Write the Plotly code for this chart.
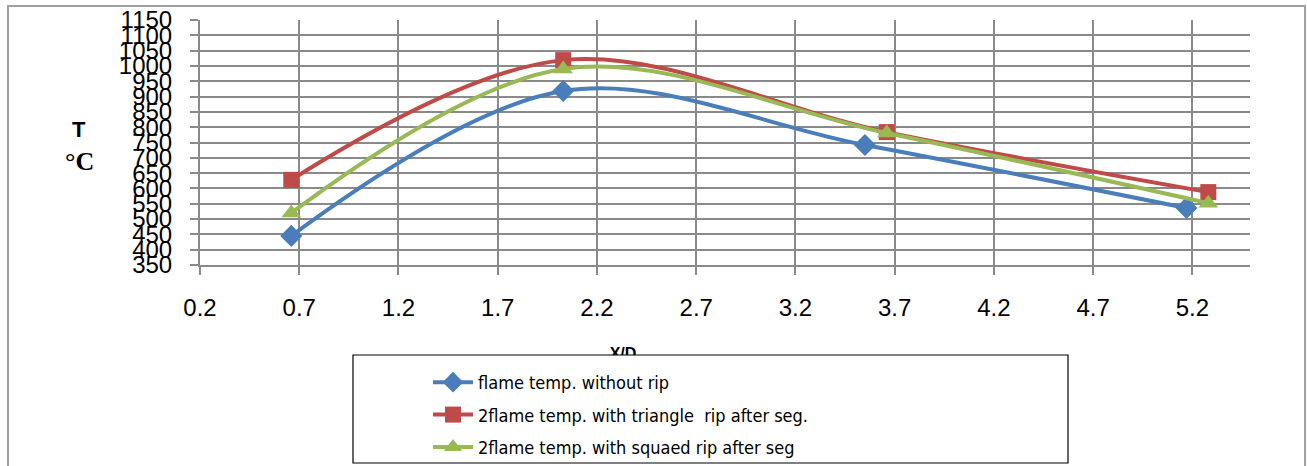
import plotly.graph_objects as go

W, H = 1307, 466

# ---- data ----
x_blue = [0.66, 2.03, 3.55, 5.17]
y_blue = [445, 918, 742, 536]
x_red = [0.66, 2.03, 3.66, 5.28]
y_red = [628, 1019, 784, 588]
x_green = [0.66, 2.03, 3.66, 5.28]
y_green = [520, 990, 781, 552]

names = ["flame temp. without rip",
         "2flame temp. with triangle  rip after seg.",
         "2flame temp. with squaed rip after seg"]
colors = ["#4a7ebb", "#be4b48", "#98b954"]
symbols = ["diamond", "square", "triangle-up"]

x_ticks = [0.2, 0.7, 1.2, 1.7, 2.2, 2.7, 3.2, 3.7, 4.2, 4.7, 5.2]
y_ticks = list(range(350, 1151, 50))

def px(x):
    return x / W

def py(y):
    return (H - y) / H

grid = "#8a8a8a"
narrow = "Liberation Sans Narrow, Arial Narrow, DejaVu Sans Condensed, sans-serif"

fig = go.Figure()
series = [(x_blue, y_blue), (x_red, y_red), (x_green, y_green)]
for i, (xs, ys) in enumerate(series):
    fig.add_trace(go.Scatter(
        x=xs, y=ys, name=names[i], mode="lines+markers",
        line=dict(color=colors[i], width=4, shape="spline", smoothing=1),
        marker=dict(symbol=symbols[i], size=17 if i != 1 else 16, color=colors[i]),
        legendgroup=f"g{i}",
    ))

# clipped axis title "X/D" (mostly hidden behind legend box)
fig.add_trace(go.Scatter(
    x=[0.45], y=[0.0], mode="text", text=["<b>X/D</b>"],
    textposition="middle center",
    textfont=dict(family="Liberation Sans, Arial, sans-serif", size=16, color="#000"),
    xaxis="x2", yaxis="y2", showlegend=False, cliponaxis=True, hoverinfo="skip",
))

fig.update_layout(
    width=W, height=H,
    margin=dict(l=0, r=0, t=0, b=0),
    paper_bgcolor="white", plot_bgcolor="white",
    showlegend=True,
    xaxis=dict(
        domain=[px(200), px(1250)], range=[0.2, 5.49],
        tickvals=x_ticks, ticktext=[str(v) for v in x_ticks],
        showgrid=True, gridcolor=grid, gridwidth=1.5,
        showline=True, linecolor=grid, linewidth=2,
        ticks="outside", ticklen=8, tickcolor=grid, tickwidth=1.5,
        ticklabelstandoff=12,
        tickfont=dict(family="Liberation Sans, Arial, sans-serif", size=24, color="#000"),
        zeroline=False, automargin=False,
    ),
    yaxis=dict(
        domain=[py(265), py(20)], range=[350, 1150],
        tickvals=y_ticks, ticktext=[str(v) for v in y_ticks],
        showgrid=True, gridcolor=grid, gridwidth=1.5,
        showline=True, linecolor=grid, linewidth=2,
        ticks="outside", ticklen=8, tickcolor=grid, tickwidth=1.5,
        ticklabelstandoff=13,
        tickfont=dict(family="Liberation Sans, Arial, sans-serif", size=24, color="#000"),
        zeroline=False, automargin=False,
    ),
    xaxis2=dict(domain=[px(560), px(700)], range=[0, 1], visible=False,
                anchor="y2", fixedrange=True),
    yaxis2=dict(domain=[py(355), py(340)], range=[0, 1], visible=False,
                anchor="x2", fixedrange=True),
    legend=dict(
        x=px(428), y=py(364), xanchor="left", yanchor="top",
        bgcolor="rgba(0,0,0,0)", borderwidth=0,
        font=dict(family=narrow, size=18, color="#000"),
        itemwidth=40, tracegroupgap=6,
    ),
    shapes=[
        # outer frame
        dict(type="rect", xref="paper", yref="paper",
             x0=px(8), x1=px(1305), y0=py(475), y1=py(6),
             line=dict(color="#a0a0a0", width=2), layer="below"),
        # legend box
        dict(type="rect", xref="paper", yref="paper",
             x0=px(353), x1=px(1068), y0=py(463), y1=py(355),
             line=dict(color="#000", width=1.2), fillcolor="rgba(0,0,0,0)"),
    ],
    annotations=[
        dict(text="<b>T</b>", x=px(79), y=py(129), xref="paper", yref="paper",
             xanchor="center", yanchor="middle",
             showarrow=False, font=dict(family="Liberation Sans, Arial, sans-serif", size=22, color="#000")),
        dict(text="<b>°C</b>", x=px(79), y=py(161), xref="paper", yref="paper",
             xanchor="center", yanchor="middle",
             showarrow=False, font=dict(family="Liberation Serif, Times New Roman, serif", size=26, color="#000")),
    ],
)

fig.write_html("out.html",
               config={"displayModeBar": False},
               post_script="document.body.style.margin='0px';document.body.style.overflow='hidden';")
